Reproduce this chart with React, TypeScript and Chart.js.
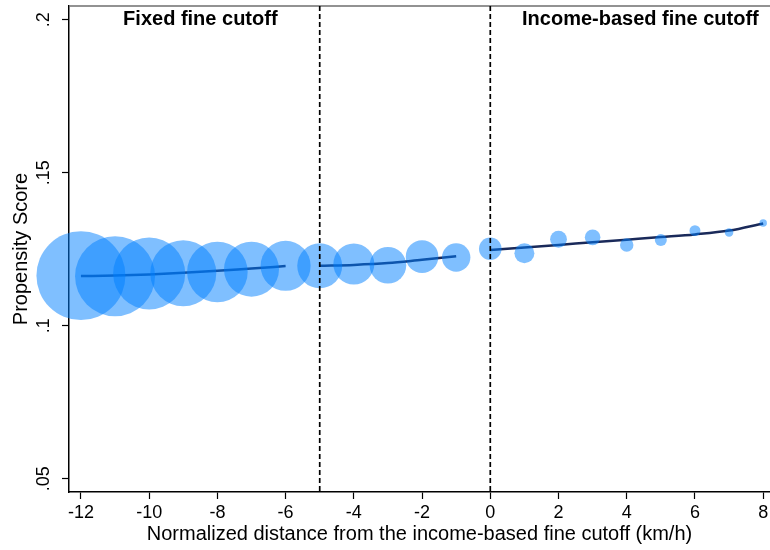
import React, { useEffect, useRef } from "react";
import { Chart, registerables } from "chart.js";

Chart.register(...registerables);

// Binned data
const distances = [-12, -11, -10, -9, -8, -7, -6, -5, -4, -3, -2, -1, 0, 1, 2, 3, 4, 5, 6, 7, 8];
const propensity = [
  0.1164, 0.1162, 0.1171, 0.1172, 0.1176, 0.1185, 0.1196, 0.1196, 0.1202, 0.1198, 0.1226,
  0.1223, 0.1252, 0.1237, 0.1283, 0.1289, 0.1264, 0.128, 0.1311, 0.1305, 0.1336,
];
const binCounts = [
  1980, 1600, 1296, 1089, 918, 756, 625, 506, 420, 335, 266, 202, 128, 100, 71, 61, 45, 36, 30, 18, 14,
];

// Fitted lines
const fitFixedX = [-12, -11, -10, -9, -8, -7, -6];
const fitFixedY = [0.11624, 0.11644, 0.1168, 0.11732, 0.11797, 0.11876, 0.11951];
const fitMidX = [-5, -4, -3, -2, -1];
const fitMidY = [0.11961, 0.1199, 0.12049, 0.1216, 0.12271];
const fitIncomeX = [0, 1, 2, 3, 4, 5, 6, 7, 8];
const fitIncomeY = [0.12474, 0.12559, 0.12644, 0.12729, 0.12814, 0.12899, 0.12987, 0.13111, 0.13346];

// Axes
const xTicks = [-12, -10, -8, -6, -4, -2, 0, 2, 4, 6, 8];
const yTicks = [0.05, 0.1, 0.15, 0.2];
const cutoffs = [-5, 0];
const regionLabels = ["Fixed fine cutoff", "Income-based fine cutoff"];
const regionLabelX = [-8.5, 4.4];
const regionLabelY = [0.2, 0.2];

const FONT = "'Liberation Sans', Arial, Helvetica, sans-serif";
const NAVY = "#1a2a5a";

export default function App() {
  const canvasRef = useRef<HTMLCanvasElement | null>(null);

  useEffect(() => {
    const canvas = canvasRef.current;
    if (!canvas) return;

    const overlay = {
      id: "overlay",
      afterDatasetsDraw(chart: any) {
        const { ctx, chartArea, scales } = chart;
        const xs = scales.x;
        const ys = scales.y;
        ctx.save();
        // top frame line
        ctx.strokeStyle = "#6e6e6e";
        ctx.lineWidth = 1.5;
        ctx.beginPath();
        ctx.moveTo(chartArea.left, chartArea.top);
        ctx.lineTo(chartArea.right, chartArea.top);
        ctx.stroke();
        // dashed cutoffs
        ctx.strokeStyle = "#000";
        ctx.lineWidth = 1.7;
        ctx.setLineDash([5, 3]);
        cutoffs.forEach((c) => {
          const px = xs.getPixelForValue(c);
          ctx.beginPath();
          ctx.moveTo(px, chartArea.top);
          ctx.lineTo(px, chartArea.bottom);
          ctx.stroke();
        });
        ctx.setLineDash([]);
        // region labels
        ctx.fillStyle = "#000";
        ctx.font = `bold 20px ${FONT}`;
        ctx.textAlign = "center";
        ctx.textBaseline = "middle";
        regionLabels.forEach((t, i) => {
          ctx.fillText(t, xs.getPixelForValue(regionLabelX[i]), ys.getPixelForValue(regionLabelY[i]));
        });
        ctx.restore();
      },
    };

    const bubbleData = distances.map((d, i) => ({ x: d, y: propensity[i], r: Math.sqrt(binCounts[i]) }));
    const lineStyle = {
      type: "line" as const,
      borderColor: NAVY,
      borderWidth: 2.5,
      pointRadius: 0,
      fill: false,
      cubicInterpolationMode: "monotone" as const,
      order: 1,
    };

    const chart = new Chart(canvas, {
      type: "bubble",
      data: {
        datasets: [
          {
            type: "bubble",
            label: "Bins",
            data: bubbleData,
            backgroundColor: "rgba(0,128,255,0.5)",
            borderWidth: 0,
            hoverBorderWidth: 0,
            clip: false,
            order: 0,
          } as any,
          { ...lineStyle, label: "Fit fixed", data: fitFixedX.map((x, i) => ({ x, y: fitFixedY[i] })) },
          { ...lineStyle, label: "Fit middle", data: fitMidX.map((x, i) => ({ x, y: fitMidY[i] })) },
          { ...lineStyle, label: "Fit income", data: fitIncomeX.map((x, i) => ({ x, y: fitIncomeY[i] })) },
        ],
      },
      options: {
        responsive: false,
        animation: false,
        events: [],
        layout: { autoPadding: false, padding: { top: 6, right: 0, left: 0, bottom: 0 } },
        plugins: { legend: { display: false }, tooltip: { enabled: false } },
        scales: {
          x: {
            type: "linear",
            min: -12.35,
            max: 8.2,
            z: 1,
            afterBuildTicks: (s: any) => {
              s.ticks = xTicks.map((v) => ({ value: v }));
            },
            afterFit: (s: any) => {
              s.height = 58;
              s.paddingLeft = 0;
              s.paddingRight = 0;
            },
            ticks: {
              color: "#000",
              font: { family: FONT, size: 18 },
              padding: 3,
              maxRotation: 0,
              minRotation: 0,
              autoSkip: false,
            },
            grid: {
              display: true,
              drawOnChartArea: false,
              drawTicks: true,
              tickLength: 7,
              tickColor: "#000",
              tickWidth: 1.2,
            },
            border: { display: true, color: "#000", width: 1.5 },
            title: {
              display: true,
              text: "Normalized distance from the income-based fine cutoff (km/h)",
              color: "#000",
              font: { family: FONT, size: 20 },
              padding: { top: 0, bottom: 4 },
            },
          },
          y: {
            type: "linear",
            min: 0.0457,
            max: 0.2045,
            z: 1,
            afterBuildTicks: (s: any) => {
              s.ticks = yTicks.map((v) => ({ value: v }));
            },
            afterFit: (s: any) => {
              s.width = 69;
              s.paddingTop = 0;
              s.paddingBottom = 0;
            },
            ticks: {
              color: "#000",
              font: { family: FONT, size: 18 },
              padding: 5,
              minRotation: 90,
              maxRotation: 90,
              crossAlign: "center",
              autoSkip: false,
              callback: (v: any) => String(Number(v)).replace(/^0/, ""),
            },
            grid: {
              display: true,
              drawOnChartArea: false,
              drawTicks: true,
              tickLength: 7,
              tickColor: "#000",
              tickWidth: 1.2,
            },
            border: { display: true, color: "#000", width: 1.5 },
            title: {
              display: true,
              text: "Propensity Score",
              color: "#000",
              font: { family: FONT, size: 20 },
              padding: { top: 9, bottom: 0 },
            },
          },
        },
      },
      plugins: [overlay],
    } as any);

    return () => {
      chart.destroy();
    };
  }, []);

  return (
    <div style={{ position: "absolute", left: 0, top: 0, width: 770, height: 550, background: "#fff" }}>
      <canvas ref={canvasRef} width={770} height={550} style={{ width: 770, height: 550, display: "block" }} />
    </div>
  );
}
